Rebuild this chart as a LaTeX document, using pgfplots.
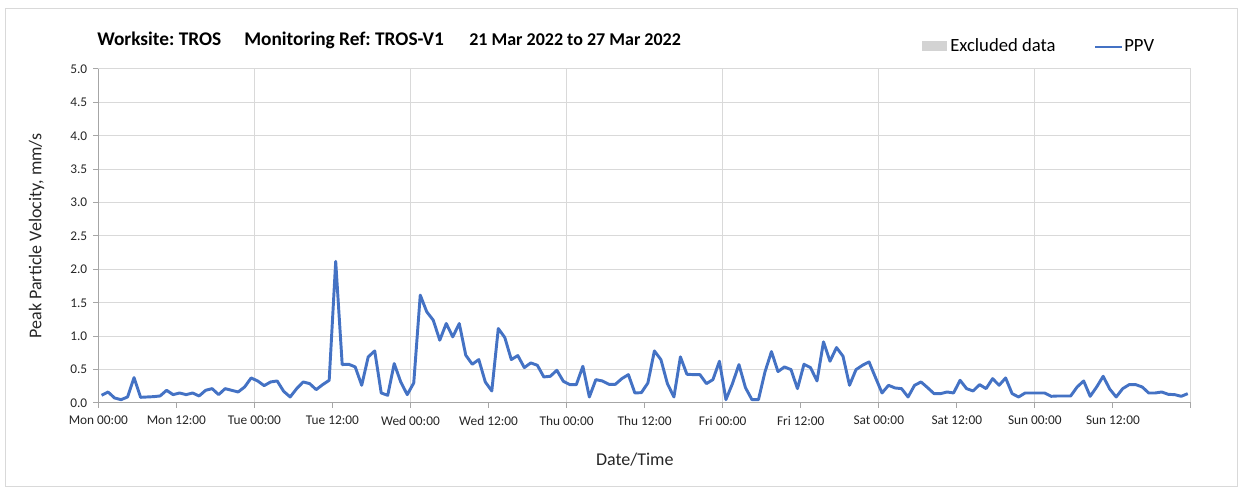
\documentclass[border=0pt]{standalone}
\usepackage{pgfplots}
\usepackage{pgfplotstable}
\pgfplotsset{compat=1.18}
\usepackage{fontspec}
\setmainfont{Carlito}
\frenchspacing
\definecolor{ppv}{HTML}{4472C4}
\definecolor{gridc}{HTML}{D9D9D9}
\definecolor{axc}{HTML}{A6A6A6}
\definecolor{excl}{HTML}{D3D3D3}
\definecolor{framec}{HTML}{D9D9D9}
\pgfplotstableread{
h v
0.5 0.115
1.5 0.165
2.5 0.075
3.5 0.05
4.5 0.09
5.5 0.38
6.5 0.085
7.5 0.09
8.5 0.095
9.5 0.105
10.5 0.19
11.5 0.125
12.5 0.15
13.5 0.125
14.5 0.15
15.5 0.105
16.5 0.19
17.5 0.215
18.5 0.125
19.5 0.215
20.5 0.19
21.5 0.165
22.5 0.24
23.5 0.375
24.5 0.33
25.5 0.26
26.5 0.315
27.5 0.33
28.5 0.175
29.5 0.09
30.5 0.215
31.5 0.315
32.5 0.29
33.5 0.2
34.5 0.275
35.5 0.34
36.5 2.12
37.5 0.575
38.5 0.58
39.5 0.54
40.5 0.265
41.5 0.69
42.5 0.78
43.5 0.15
44.5 0.115
45.5 0.59
46.5 0.315
47.5 0.125
48.5 0.3
49.5 1.615
50.5 1.365
51.5 1.24
52.5 0.94
53.5 1.19
54.5 0.99
55.5 1.19
56.5 0.715
57.5 0.58
58.5 0.65
59.5 0.315
60.5 0.18
61.5 1.115
62.5 0.98
63.5 0.65
64.5 0.71
65.5 0.53
66.5 0.6
67.5 0.565
68.5 0.39
69.5 0.4
70.5 0.49
71.5 0.325
72.5 0.275
73.5 0.275
74.5 0.55
75.5 0.09
76.5 0.35
77.5 0.33
78.5 0.28
79.5 0.28
80.5 0.365
81.5 0.425
82.5 0.15
83.5 0.155
84.5 0.3
85.5 0.78
86.5 0.65
87.5 0.29
88.5 0.09
89.5 0.69
90.5 0.43
91.5 0.425
92.5 0.425
93.5 0.29
94.5 0.35
95.5 0.625
96.5 0.05
97.5 0.29
98.5 0.575
99.5 0.23
100.5 0.05
101.5 0.05
102.5 0.465
103.5 0.77
104.5 0.47
105.5 0.54
106.5 0.5
107.5 0.215
108.5 0.58
109.5 0.53
110.5 0.33
111.5 0.915
112.5 0.625
113.5 0.83
114.5 0.7
115.5 0.265
116.5 0.5
117.5 0.565
118.5 0.615
119.5 0.38
120.5 0.15
121.5 0.265
122.5 0.225
123.5 0.215
124.5 0.09
125.5 0.265
126.5 0.315
127.5 0.23
128.5 0.14
129.5 0.14
130.5 0.165
131.5 0.15
132.5 0.34
133.5 0.215
134.5 0.18
135.5 0.275
136.5 0.215
137.5 0.365
138.5 0.265
139.5 0.375
140.5 0.14
141.5 0.09
142.5 0.15
143.5 0.15
144.5 0.15
145.5 0.15
146.5 0.1
147.5 0.105
148.5 0.105
149.5 0.105
150.5 0.24
151.5 0.33
152.5 0.1
153.5 0.24
154.5 0.4
155.5 0.21
156.5 0.09
157.5 0.215
158.5 0.275
159.5 0.275
160.5 0.24
161.5 0.15
162.5 0.15
163.5 0.165
164.5 0.13
165.5 0.125
166.5 0.1
167.5 0.14
}\ppvdata
\begin{document}
\begin{tikzpicture}[x=0.75pt,y=0.75pt]
\path[use as bounding box] (0,0) rectangle (1253,495);
\draw[framec, line width=0.75pt] (5.5,8) rectangle (1237,486);
\begin{axis}[
  at={(73.725pt,69pt)}, anchor=south west,
  scale only axis, width=819.5pt, height=250.5pt,
  xmin=0, xmax=168, ymin=0, ymax=5,
  axis x line*=bottom, axis y line*=left,
  axis line style={axc, line width=0.75pt},
  tick align=outside,
  major tick length=3.75pt,
  tick style={axc, line width=0.75pt},
  xtick={0,12,...,168},
  xticklabels={Mon 00:00,Mon 12:00,Tue 00:00,Tue 12:00,Wed 00:00,Wed 12:00,Thu 00:00,Thu 12:00,Fri 00:00,Fri 12:00,Sat 00:00,Sat 12:00,Sun 00:00,Sun 12:00,},
  minor xtick={24,48,...,168},
  xminorgrids=true,
  minor tick length=0pt,
  minor grid style={gridc, line width=0.75pt},
  ytick={0,0.5,...,5},
  ymajorgrids=true,
  major grid style={gridc, line width=0.75pt},
  yticklabel={\pgfmathprintnumber[fixed,fixed zerofill,precision=1,assume math mode=true]{\tick}},
  ticklabel style={font=\fontsize{10}{12}\selectfont, text=black!85},
  xticklabel style={yshift=-2.5pt},
  yticklabel style={xshift=-1pt},
  xlabel={Date/Time},
  ylabel={Peak Particle Velocity, mm/s},
  label style={font=\fontsize{13.5}{16}\selectfont, text=black!85},
  xlabel style={at={(axis description cs:0.491,0)}, anchor=north, yshift=-34pt},
  ylabel style={at={(axis description cs:0,0.5)}, anchor=south, xshift=0pt, yshift=37pt},
  clip=false,
]
\addplot[ppv, line width=2.2pt, line join=round] table[x=h, y=v] {\ppvdata};
\end{axis}
\node[anchor=base west, font=\bfseries\fontsize{14.5}{16}\selectfont, inner sep=0pt] at (97,449) {Worksite: TROS};
\node[anchor=base west, font=\bfseries\fontsize{14.5}{16}\selectfont, inner sep=0pt] at (244,449) {Monitoring Ref: TROS-V1};
\node[anchor=base west, font=\bfseries\fontsize{13.5}{16}\selectfont, inner sep=0pt] at (469,449) {21 Mar 2022 to 27 Mar 2022};
\fill[excl] (921.5,444) rectangle (947,454);
\node[anchor=base west, font=\fontsize{14}{16}\selectfont, inner sep=0pt] at (950,443) {Excluded data};
\draw[ppv, line width=2.2pt] (1095,448) -- (1122,448);
\node[anchor=base west, font=\fontsize{14}{16}\selectfont, inner sep=0pt] at (1124,443) {PPV};
\end{tikzpicture}
\end{document}
